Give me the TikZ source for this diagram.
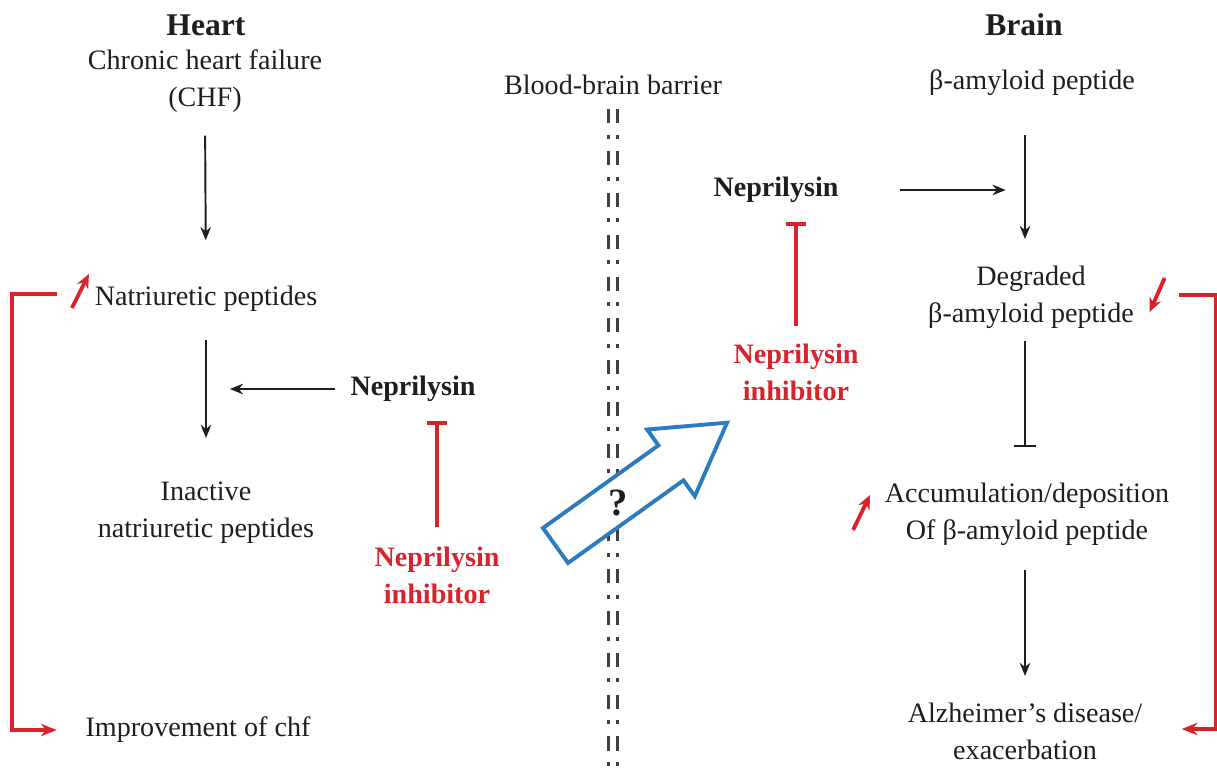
\documentclass[tikz,border=0pt]{standalone}
\usepackage{fontspec}
\setmainfont{Liberation Serif}
\usetikzlibrary{arrows.meta,calc}
\definecolor{inhib-red}{HTML}{D7232C}
\definecolor{path-blue}{HTML}{2B7BBE}
\definecolor{ink}{HTML}{1E1E1E}
\tikzset{
    body-text/.style = {text=ink, font=\fontsize{16}{21}\selectfont, align=center, inner sep=0pt},
    title-text/.style = {text=ink, font=\fontsize{18}{22}\selectfont\bfseries, inner sep=0pt},
    enzyme-text/.style = {body-text, font=\fontsize{16}{21}\selectfont\bfseries},
    inhibitor-text/.style = {enzyme-text, text=inhib-red},
    flow-arrow/.style = {draw=ink, line width=1.1pt, -{Stealth[length=7.5pt,width=6pt]}},
    block-bar/.style = {draw=ink, line width=1.1pt, -{Bar[width=13pt,line width=1.4pt]}},
    inhib-bar/.style = {draw=inhib-red, line width=2pt, -{Bar[width=11pt]}},
    feedback-line/.style = {draw=inhib-red, line width=2pt, -{Stealth[length=9pt,width=7pt]}},
    level-mark/.style = {draw=inhib-red, line width=2.2pt, -{Stealth[length=8pt,width=7pt]}},
    barrier-line/.style = {draw=ink!85, line width=1.6pt, dash pattern=on 8pt off 6.5pt on 2.3pt off 7pt},
    transport-arrow/.style = {draw=path-blue, fill=white, line width=2.2pt},
}
\begin{document}
\begin{tikzpicture}[x=0.02cm, y=-0.02cm]
\useasboundingbox (0,0) rectangle (1217,773);
% heart side
\node[title-text] (heart) at (206,25) {Heart};
\node[body-text] (chf) at (205,81) {Chronic heart failure\\(CHF)};
\node[body-text] (natri) at (206,299) {Natriuretic peptides};
\node[body-text] (inactive) at (206,513) {Inactive\\natriuretic peptides};
\node[enzyme-text] (nep-heart) at (413,389) {Neprilysin};
\node[inhibitor-text] (inh-heart) at (437,575) {Neprilysin\\inhibitor};
\node[body-text] (improve) at (198,730) {Improvement of chf};
% barrier
\node[body-text] (bbb) at (613,85) {Blood-brain barrier};
% brain side
\node[title-text] (brain) at (1024,25) {Brain};
\node[body-text] (amyloid) at (1032,83) {β-amyloid peptide};
\node[enzyme-text] (nep-brain) at (776,190) {Neprilysin};
\node[body-text] (degraded) at (1031,297) {Degraded\\β-amyloid peptide};
\node[inhibitor-text] (inh-brain) at (796,372) {Neprilysin\\inhibitor};
\node[body-text] (accum) at (1027,514) {Accumulation/deposition\\Of β-amyloid peptide};
\node[body-text] (alz) at (1025,731) {Alzheimer’s disease/\\exacerbation};

\draw[flow-arrow, shorten <=13pt, shorten >=26pt] (chf.south) -- (natri.north);
\draw[flow-arrow, shorten <=16pt, shorten >=25pt] (natri.south) -- (inactive.north);
\draw[flow-arrow, shorten <=8.5pt, shorten >=13.6pt] (nep-heart.west) -- (nep-heart.west -| inactive.north);
\draw[inhib-bar, shorten <=11pt, shorten >=11pt] (inh-heart.north) -- (inh-heart.north |- nep-heart.south);

\draw[flow-arrow, shorten <=22pt, shorten >=15pt] (amyloid.south -| alz.north) -- (degraded.north -| alz.north);
\draw[flow-arrow, shorten <=35pt, shorten >=11pt] (nep-brain.east) -- (nep-brain.east -| alz.north);
\draw[inhib-bar, shorten <=9.6pt, shorten >=11pt] (inh-brain.north) -- (inh-brain.north |- nep-brain.south);
\draw[block-bar, shorten <=7pt, shorten >=20pt] (degraded.south -| alz.north) -- (accum.north -| alz.north);
\draw[flow-arrow, shorten <=14pt, shorten >=15pt] (accum.south -| alz.north) -- (alz.north);

% barrier and crossing
\draw[barrier-line] ($(bbb.south)+(-4.5,14)$) -- ++(0,680);
\draw[barrier-line] ($(bbb.south)+(4.5,14)$) -- ++(0,680);
\begin{scope}[shift={(555.5,545.5)}, rotate=35.6]
\draw[transport-arrow] (0,-21.5) -- (142,-21.5) -- (142,-41) -- (211,0) -- (142,41) -- (142,21.5) -- (0,21.5) -- cycle;
\end{scope}
\node[text=ink, font=\fontsize{22}{26}\selectfont\bfseries, inner sep=0pt] (query) at (618,503) {?};

% feedback brackets and level marks
\draw[feedback-line] ($(natri.west)+(-37.5,-5)$) -- ++(-45,0) |- ($(improve.west)+(-28.5,0)$);
\draw[feedback-line] ($(degraded.east)+(44.5,-2)$) -- ++(37,0) |- ($(alz.east)+(39,-2)$);
\draw[level-mark] ($(natri.west)+(-22.5,9)$) -- ($(natri.west)+(-5.5,-25)$);
\draw[level-mark] ($(degraded.east)+(30.5,-19)$) -- ($(degraded.east)+(15.5,15)$);
\draw[level-mark] ($(accum.west)+(-31.5,16)$) -- ($(accum.west)+(-14.5,-19)$);
\end{tikzpicture}
\end{document}
